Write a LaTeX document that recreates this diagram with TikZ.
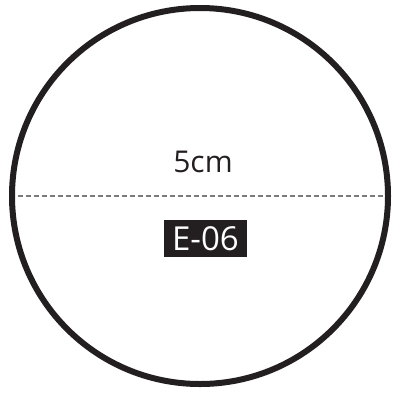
\documentclass[tikz,border=0pt]{standalone}
\usepackage{fontspec}
\setmainfont{Open Sans}
\definecolor{ink}{HTML}{231F20}
\definecolor{dashgray}{HTML}{7A7A7A}
\begin{document}
\begin{tikzpicture}[x=1pt,y=-1pt,
  ring/.style={draw=ink,line width=6pt},
  diam/.style={draw=dashgray,line width=2.2pt,dash pattern=on 5pt off 3pt},
  sizelabel/.style={inner sep=0pt,font=\fontsize{30}{32}\selectfont,text=ink},
  codelabel/.style={fill=ink,text=white,inner sep=0pt,font=\fontsize{33}{35}\selectfont}]
\useasboundingbox (0,0) rectangle (393,392);
\node[ring,circle,minimum size=376pt,inner sep=0pt] (c) at (200,196) {};
\coordinate (l) at (18,196);
\coordinate (r) at (385,196);
\draw[diam] (l) -- (r);
\node[sizelabel,anchor=base] (s) at (203,172) {5cm};
\node[codelabel,minimum width=83pt,minimum height=37pt] (e) at (205.5,238.5) {E-06};
\end{tikzpicture}
\end{document}
